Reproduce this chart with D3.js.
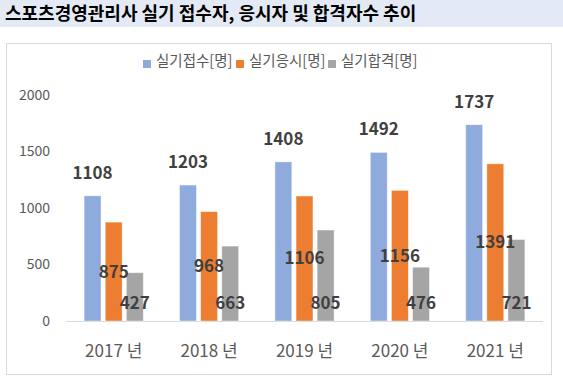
<!DOCTYPE html>
<html><head><meta charset="utf-8">
<script src="https://cdn.jsdelivr.net/npm/d3@7"></script>
<style>body{margin:0;background:#fff;}svg{display:block;font-family:"Noto Sans CJK KR","Noto Sans",sans-serif;}</style>
</head><body>
<svg id="c" width="563" height="378"></svg>
<script>
const title = "스포츠경영관리사 실기 접수자, 응시자 및 합격자수 추이";
const categories = ["2017 년","2018 년","2019 년","2020 년","2021 년"];
const seriesNames = ["실기접수[명]","실기응시[명]","실기합격[명]"];
const applied = [1108,1203,1408,1492,1737];
const tested = [875,968,1106,1156,1391];
const passed = [427,663,805,476,721];
const yTicks = [0,500,1000,1500,2000];
const colors = ["#8FAADC","#ED7D31","#A5A5A5"];

const svg = d3.select("#c");
svg.append("rect").attr("x",0).attr("y",0).attr("width",563).attr("height",27).attr("fill","#E4EAF5");
svg.append("text").attr("x",5).attr("y",20).attr("font-size",18).attr("font-weight","bold").attr("fill","#000").text(title);
svg.append("rect").attr("x",6.5).attr("y",43.5).attr("width",545).attr("height",331).attr("fill","#fff").attr("stroke","#D9D9D9");

const x0 = d3.scaleBand().domain(categories).range([66,543]).paddingInner(0.38).paddingOuter(0.19);
const x1 = d3.scaleBand().domain(seriesNames).range([0,x0.bandwidth()]).paddingInner(0.2).paddingOuter(0);
const y = d3.scaleLinear().domain([0,2000]).range([321,95]);
const values = [applied,tested,passed];

// y labels
svg.append("g").selectAll("text").data(yTicks).join("text")
  .attr("x",50).attr("y",d=>y(d)).attr("dy","0.35em").attr("text-anchor","end")
  .attr("font-size",14).attr("fill","#595959").text(d=>d);

// baseline
svg.append("line").attr("x1",66).attr("x2",543).attr("y1",y(0)+0.5).attr("y2",y(0)+0.5).attr("stroke","#D9D9D9");

// bars
const data = [];
categories.forEach((c,i)=>seriesNames.forEach((s,j)=>data.push({c,s,j,v:values[j][i]})));
svg.append("g").selectAll("rect").data(data).join("rect")
  .attr("x",d=>x0(d.c)+x1(d.s)).attr("width",x1.bandwidth())
  .attr("y",d=>y(d.v)).attr("height",d=>y(0)-y(d.v))
  .attr("fill",d=>colors[d.j]).attr("stroke","#fff").attr("stroke-opacity",0.5).attr("stroke-width",0.8);

// labels
svg.append("g").selectAll("text").data(data).join("text")
  .attr("x",d=>x0(d.c)+x1(d.s)+x1.bandwidth()/2)
  .attr("y",d=> d.j===0 ? y(d.v)-23 : d.j===1 ? (y(d.v)+y(0))/2 : y(0)-18)
  .attr("dy","0.35em").attr("text-anchor","middle")
  .attr("font-size",17).attr("font-weight","bold").attr("fill","#404040").text(d=>d.v);

// x labels
svg.append("g").selectAll("text").data(categories).join("text")
  .attr("x",d=>x0(d)+x0.bandwidth()/2).attr("y",351).attr("dy","0.35em").attr("text-anchor","middle")
  .attr("font-size",17).attr("fill","#595959").text(d=>d);

// legend
const legX = [143,236,328];
const lg = svg.append("g").selectAll("g").data(seriesNames).join("g")
  .attr("transform",(d,i)=>`translate(${legX[i]},0)`);
lg.append("rect").attr("x",0).attr("y",60).attr("width",8).attr("height",8).attr("fill",(d,i)=>colors[i]);
lg.append("text").attr("x",13).attr("y",61).attr("dy","0.35em").attr("font-size",14.5).attr("fill","#595959").text(d=>d);
</script>
</body></html>
